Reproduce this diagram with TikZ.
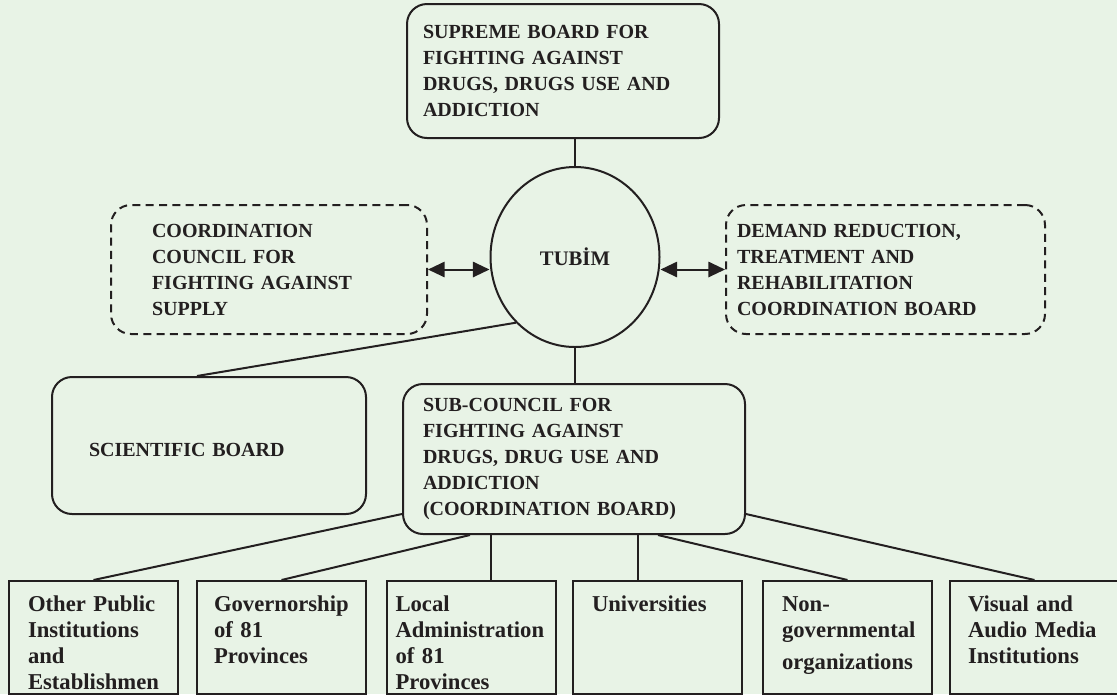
\documentclass[tikz,border=0pt]{standalone}
\usepackage{fontspec}
\setmainfont{Liberation Serif}
\usepackage{xcolor}
\usetikzlibrary{shapes,arrows.meta,positioning}
\definecolor{paper}{HTML}{E8F3E6}
\definecolor{ink}{HTML}{231F20}

\begin{document}
\begin{tikzpicture}[x=0.75pt, y=-0.75pt,
    board/.style={rectangle, draw=ink, line width=1.5pt, rounded corners=15pt, align=left, text=ink, inner ysep=0pt, font=\bfseries\fontsize{15pt}{19.5pt}\selectfont},
    council/.style={board, dash pattern=on 6pt off 4pt},
    unit/.style={rectangle, draw=ink, line width=1.5pt, align=left, text=ink, anchor=north, minimum width=126.75pt, inner ysep=0pt, text height=22.5pt, text depth=62.25pt, font=\bfseries\fontsize{17pt}{19.5pt}\selectfont},
    link/.style={draw=ink, line width=1.5pt},
    both/.style={link, {Triangle[length=12.5pt,width=11.5pt]}-{Triangle[length=12.5pt,width=11.5pt]}}]
    \useasboundingbox (0,0) rectangle (1117,694);
    \fill[paper] (0,0) rectangle (1117,694);

    % top of the chart
    \node[board, minimum width=234pt, minimum height=100.5pt, inner xsep=12pt, text width=210pt] (supreme) at (563,71) {SUPREME BOARD FOR\\FIGHTING AGAINST\\DRUGS, DRUGS USE AND\\ADDICTION};
    \node[ellipse, draw=ink, line width=1.5pt, minimum width=126.75pt, minimum height=135pt, inner sep=0pt, text=ink, font=\bfseries\fontsize{15.5pt}{19pt}\selectfont] (tubim) at (575,257) {TUBİM};
    \node[council, minimum width=237pt, minimum height=96.75pt, inner xsep=30.75pt, text width=175.5pt] (supply) at (269,269.5) {COORDINATION\\COUNCIL FOR\\FIGHTING AGAINST\\SUPPLY};
    \node[council, minimum width=239.25pt, minimum height=96.75pt, inner xsep=8.25pt, text width=222.75pt] (demand) at (885.5,269.5) {DEMAND REDUCTION,\\TREATMENT AND\\REHABILITATION\\COORDINATION BOARD};
    \node[board, minimum width=235.5pt, minimum height=102.75pt, inner xsep=27.75pt, text width=180pt, text height=17pt, text depth=0pt] (science) at (209,445.5) {SCIENTIFIC BOARD};
    \node[board, minimum width=256.5pt, minimum height=112.5pt, inner xsep=15pt, text width=226.5pt] (subcouncil) at (574,459) {SUB-COUNCIL FOR\\FIGHTING AGAINST\\DRUGS, DRUG USE AND\\ADDICTION\\(COORDINATION BOARD)};

    % bottom row
    \node[unit, inner xsep=14.25pt, text width=98.25pt] (public) at (93.5,580) {Other Public\\Institutions\\and\\Establishmen};
    \node[unit, inner xsep=12.75pt, text width=101.25pt] (governor) at (281.5,580) {Governorship\\of 81\\Provinces};
    \node[unit, inner xsep=6.75pt, text width=113.25pt] (localadm) at (471,580) {Local\\Administration\\of 81\\Provinces};
    \node[unit, inner xsep=14.25pt, text width=98.25pt] (univ) at (657.5,580) {Universities};
    \node[unit, inner xsep=14.25pt, text width=98.25pt] (ngo) at (847.5,580) {Non-\\governmental\\[4.5pt]organizations};
    \node[unit, inner xsep=13.5pt, text width=99.75pt] (media) at (1034.5,580) {Visual and\\Audio Media\\Institutions};

    \coordinate (localtop) at ([xshift=15pt]localadm.north);
    \coordinate (univtop) at ([xshift=-14.6pt]univ.north);

    \draw[link] (tubim.north) -- (tubim.north |- supreme.south);
    \draw[link] (tubim.south) -- (tubim.south |- subcouncil.north);
    \draw[both] (supply.east) -- (supply.east -| tubim.west);
    \draw[both] (tubim.east |- demand.west) -- (demand.west);
    \draw[link] (tubim.228) -- ([xshift=-9pt]science.north);

    \draw[link] ([yshift=15.75pt]subcouncil.south west) -- (public.north);
    \draw[link] ([xshift=-78pt]subcouncil.south) -- (governor.north);
    \draw[link] (subcouncil.south -| localtop) -- (localtop);
    \draw[link] (subcouncil.south -| univtop) -- (univtop);
    \draw[link] ([xshift=63pt]subcouncil.south) -- (ngo.north);
    \draw[link] ([yshift=15.75pt]subcouncil.south east) -- (media.north);
\end{tikzpicture}
\end{document}
